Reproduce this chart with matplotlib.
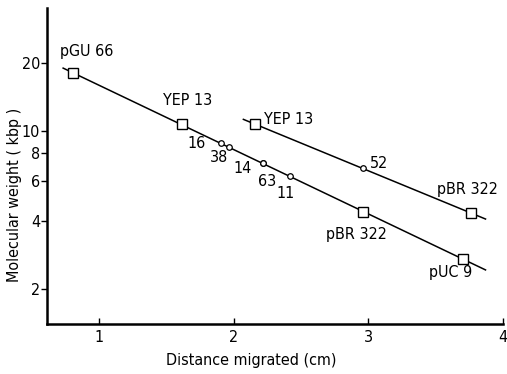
import numpy as np
import matplotlib
matplotlib.use("Agg")
import matplotlib.pyplot as plt

plt.rcParams['font.family'] = ['DejaVu Sans']
plt.rcParams['font.stretch'] = 'condensed'

# Standards (squares) on lower line
lower_std_names = ["pGU 66", "YEP 13", "pBR 322", "pUC 9"]
lower_std_x = [0.80, 1.61, 2.96, 3.70]
lower_std_y = [18.1, 10.7, 4.39, 2.72]

# Samples (circles) on lower line
lower_smp_names = ["16", "38", "14", "63", "11"]
lower_smp_x = [1.90, 1.96, 2.215, 2.215, 2.415]
lower_smp_y = [8.85, 8.5, 7.2, 7.2, 6.3]

# Standards on upper line
upper_std_names = ["YEP 13", "pBR 322"]
upper_std_x = [2.16, 3.76]
upper_std_y = [10.7, 4.34]

# Sample on upper line
upper_smp_names = ["52"]
upper_smp_x = [2.956]
upper_smp_y = [6.85]

# x-extent of the fitted lines
lower_fit_x = [0.73, 3.87]
upper_fit_x = [2.07, 3.87]

xticks = [1, 2, 3, 4]
yticks = [2, 4, 6, 8, 10, 20]

fig = plt.figure(figsize=(5.07, 3.74), dpi=100)
ax = fig.add_axes([47/507, 1-324/374, 456/507, 316/374])
ax.set_yscale('log')
ax.set_xlim(0.61, 4.0)
ax.set_ylim(1.4, 35)


def fit_line(xs, ys, xr):
    p = np.polyfit(xs, np.log10(ys), 1)
    xr = np.array(xr)
    return xr, 10 ** np.polyval(p, xr)

lx, ly = fit_line(lower_std_x, lower_std_y, lower_fit_x)
ux, uy = fit_line(upper_std_x, upper_std_y, upper_fit_x)
ax.plot(lx, ly, color='black', lw=1.1, zorder=1)
ax.plot(ux, uy, color='black', lw=1.1, zorder=1)

ax.plot(lower_std_x, lower_std_y, 's', ms=7.5, mfc='white', mec='black', mew=1.0, zorder=3)
ax.plot(upper_std_x, upper_std_y, 's', ms=7.5, mfc='white', mec='black', mew=1.0, zorder=3)
ax.plot(lower_smp_x, lower_smp_y, 'o', ms=4, mfc='white', mec='black', mew=0.9, zorder=3)
ax.plot(upper_smp_x, upper_smp_y, 'o', ms=4, mfc='white', mec='black', mew=0.9, zorder=3)

fs = 11.5
lower_std_off = [(14, 21), (6, 24), (-7, -23), (-12, -14)]
for n, x, y, o in zip(lower_std_names, lower_std_x, lower_std_y, lower_std_off):
    ax.annotate(n, (x, y), xytext=o, textcoords='offset pixels', ha='center', va='center', fontsize=fs)
lower_smp_off = [(-24, -1), (-10, -11), (-20, -5), (4, -18), (-4, -17)]
for n, x, y, o in zip(lower_smp_names, lower_smp_x, lower_smp_y, lower_smp_off):
    ax.annotate(n, (x, y), xytext=o, textcoords='offset pixels', ha='center', va='center', fontsize=fs)
upper_std_off = [(33, 5), (-3, 23)]
for n, x, y, o in zip(upper_std_names, upper_std_x, upper_std_y, upper_std_off):
    ax.annotate(n, (x, y), xytext=o, textcoords='offset pixels', ha='center', va='center', fontsize=fs)
upper_smp_off = [(16, 5)]
for n, x, y, o in zip(upper_smp_names, upper_smp_x, upper_smp_y, upper_smp_off):
    ax.annotate(n, (x, y), xytext=o, textcoords='offset pixels', ha='center', va='center', fontsize=fs)

ax.spines['top'].set_visible(False)
ax.spines['right'].set_visible(False)
ax.spines['left'].set_linewidth(1.8)
ax.spines['bottom'].set_linewidth(1.8)

ax.set_xticks(xticks)
ax.set_xticklabels([str(t) for t in xticks])
ax.set_yticks(yticks)
ax.set_yticklabels([str(t) for t in yticks])
ax.yaxis.set_minor_locator(matplotlib.ticker.NullLocator())
ax.tick_params(axis='x', direction='in', length=4, width=1, labelsize=fs, pad=4)
ax.tick_params(axis='y', direction='out', length=4, width=1, labelsize=fs, pad=1)

ax.set_xlabel("Distance migrated (cm)", fontsize=fs)
ax.set_ylabel("Molecular weight ( kbp )", fontsize=fs)
ax.xaxis.set_label_coords(0.447, -0.092)
ax.yaxis.set_label_coords(-0.055, 0.41)

fig.savefig("out.png", dpi=100)
